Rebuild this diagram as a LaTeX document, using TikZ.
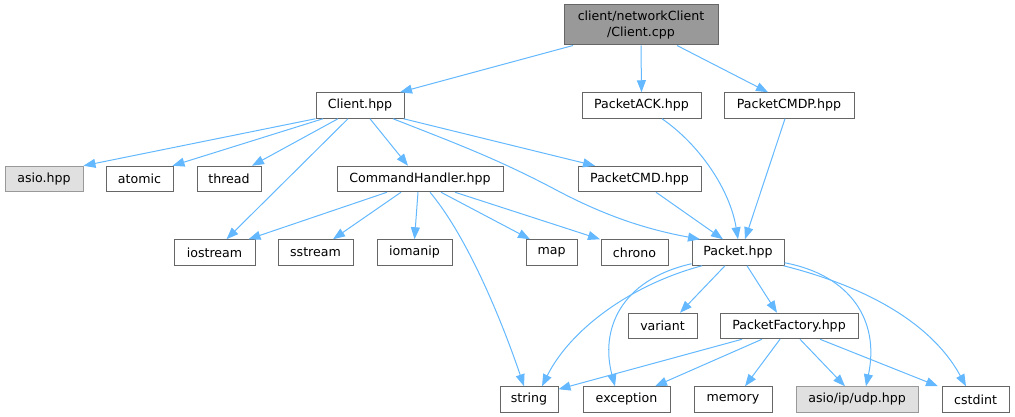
\documentclass[tikz,border=0pt]{standalone}
\usepackage{fontspec}
\setmainfont{DejaVu Sans}
\usetikzlibrary{arrows.meta}
\definecolor{bordc}{HTML}{666666}
\definecolor{lbord}{HTML}{999999}
\definecolor{rootfill}{HTML}{999999}
\definecolor{extfill}{HTML}{E0E0E0}
\definecolor{linkc}{HTML}{63B8FF}
\begin{document}
\begin{tikzpicture}[x=1pt,y=-1pt,
  nd/.style={draw=bordc, fill=white, line width=1pt, minimum height=25.5pt, inner sep=0pt,
    text=black, font=\fontsize{12.6}{15.5}\selectfont},
  extnd/.style={nd, draw=lbord, fill=extfill},
  rootnd/.style={nd, fill=rootfill, minimum height=40pt, align=center},
  conn/.style={draw=linkc, line width=1pt, -{Triangle[length=12pt,width=9pt]}}]
\useasboundingbox (0,0) rectangle (1015,417);

% nodes
\node[rootnd, minimum width=154pt] (root) at (641,25) {client/networkClient\\/Client.cpp};
\node[nd, minimum width=88pt] (client) at (360,105.5) {Client.hpp};
\node[nd, minimum width=119pt] (ack) at (641.5,105.5) {PacketACK.hpp};
\node[nd, minimum width=130pt] (cmdp) at (789,105.5) {PacketCMDP.hpp};
\node[extnd, minimum width=78pt] (asio) at (44,179) {asio.hpp};
\node[nd, minimum width=67pt] (atomic) at (139.5,179) {atomic};
\node[nd, minimum width=64pt] (thread) at (229,179) {thread};
\node[nd, minimum width=166pt] (cmdh) at (420,179) {CommandHandler.hpp};
\node[nd, minimum width=123pt] (cmd) at (639.5,179) {PacketCMD.hpp};
\node[nd, minimum width=81pt] (iostream) at (214.5,252.5) {iostream};
\node[nd, minimum width=75pt] (sstream) at (315.5,252.5) {sstream};
\node[nd, minimum width=75pt] (iomanip) at (414.5,252.5) {iomanip};
\node[nd, minimum width=51pt] (map) at (551.5,252.5) {map};
\node[nd, minimum width=67pt] (chrono) at (634.5,252.5) {chrono};
\node[nd, minimum width=92pt] (packet) at (738,252.5) {Packet.hpp};
\node[nd, minimum width=69pt] (variant) at (662.5,326) {variant};
\node[nd, minimum width=138pt] (factory) at (789,326) {PacketFactory.hpp};
\node[nd, minimum width=58pt] (string) at (529,399.5) {string};
\node[nd, minimum width=87pt] (exception) at (626.5,399.5) {exception};
\node[nd, minimum width=78pt] (memory) at (733,399.5) {memory};
\node[extnd, minimum width=122pt] (udp) at (857,399.5) {asio/ip/udp.hpp};
\node[nd, minimum width=67pt] (cstdint) at (975.5,399.5) {cstdint};

% root
\draw[conn] ([xshift=-68pt]root.south) -- ([xshift=40pt]client.north);
\draw[conn] (root.south) -- (ack.north);
\draw[conn] ([xshift=36pt]root.south) -- ([xshift=-21pt]cmdp.north);

% Client.hpp
\draw[conn] (client.south west) -- (asio.north east);
\draw[conn] ([xshift=-37pt]client.south) -- ([xshift=-1pt]atomic.north east);
\draw[conn] ([xshift=-22pt]client.south) -- ([xshift=23pt]thread.north);
\draw[conn] ([xshift=-12pt]client.south) -- ([xshift=12pt]iostream.north);
\draw[conn] ([xshift=10pt]client.south) -- ([xshift=-12pt]cmdh.north);
\draw[conn] ([xshift=-1pt]client.south east) -- ([xshift=-44.5pt]cmd.north);
\draw[conn] ([xshift=33pt]client.south) .. controls (460,145) and (500,160) .. (560,192)
  .. controls (610,218) and (650,230) .. ([xshift=-38pt]packet.north);

% CommandHandler.hpp
\draw[conn] ([xshift=-33pt]cmdh.south) -- ([xshift=-7pt]iostream.north east);
\draw[conn] ([xshift=-19pt]cmdh.south) -- ([xshift=17.5pt]sstream.north);
\draw[conn] ([xshift=-2pt]cmdh.south) -- (iomanip.north);
\draw[conn] ([xshift=10pt]cmdh.south) .. controls (470,240) and (505,330) .. ([xshift=-5pt]string.north);
\draw[conn] ([xshift=21pt]cmdh.south) -- ([xshift=-21.5pt]map.north);
\draw[conn] ([xshift=35pt]cmdh.south) -- ([xshift=-34.5pt]chrono.north);

% into Packet.hpp
\draw[conn] ([xshift=20.5pt]ack.south) .. controls (700,145) and (730,190) .. (packet.north);
\draw[conn] ([xshift=-4pt]cmdp.south) -- ([xshift=7pt]packet.north);
\draw[conn] ([xshift=16.5pt]cmd.south) -- ([xshift=-15pt]packet.north);

% Packet.hpp
\draw[conn] ([xshift=-36pt]packet.south) .. controls (630,285) and (570,330) .. ([xshift=13pt]string.north);
\draw[conn] ([yshift=2pt]packet.south west) .. controls (620,280) and (600,330) .. ([xshift=-11.5pt]exception.north);
\draw[conn] ([xshift=-13pt]packet.south) -- ([xshift=17.5pt]variant.north);
\draw[conn] ([xshift=9pt]packet.south) -- ([xshift=-12pt]factory.north);
\draw[conn] ([yshift=3pt]packet.south east) .. controls (850,275) and (880,320) .. ([xshift=9pt]udp.north);
\draw[conn] ([xshift=-1pt]packet.south east) .. controls (860,285) and (930,320) .. ([xshift=-9.5pt]cstdint.north);

% PacketFactory.hpp
\draw[conn] ([xshift=-47pt]factory.south) -- ([yshift=-3pt]string.north east);
\draw[conn] ([xshift=-27pt]factory.south) -- ([xshift=28.5pt]exception.north);
\draw[conn] ([xshift=-9pt]factory.south) -- ([xshift=12pt]memory.north);
\draw[conn] ([xshift=11pt]factory.south) -- ([xshift=-12pt]udp.north);
\draw[conn] ([xshift=31pt]factory.south) -- ([xshift=-37.5pt]cstdint.north);
\end{tikzpicture}
\end{document}
